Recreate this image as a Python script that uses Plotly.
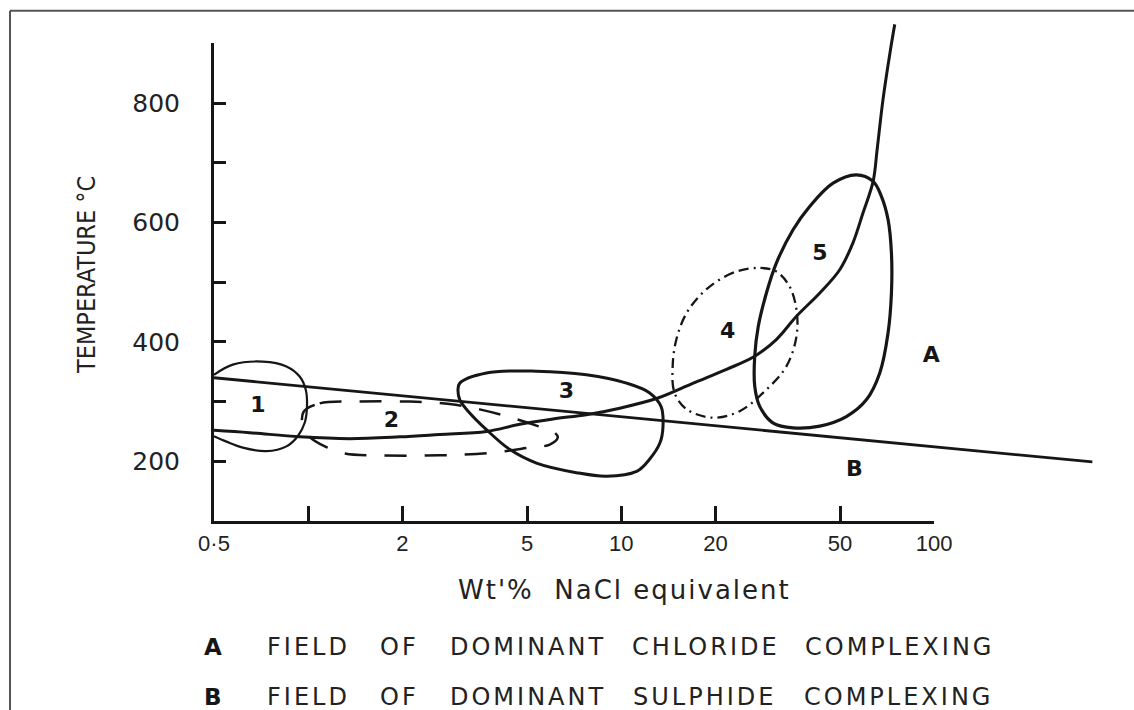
import math
import plotly.graph_objects as go

# ---------------- data (x = wt% NaCl equivalent, T = temperature in deg C) ----------------
x_tick_vals = [0.5, 1, 2, 5, 10, 20, 50, 100]
x_tick_text = ["0·5", "", "2", "5", "10", "20", "50", "100"]
y_tick_vals = [200, 300, 400, 500, 600, 700, 800, 900]
y_tick_text = ["200", "", "400", "", "600", "", "800", ""]

axis_x_span = [0.5, 100]
axis_t_span = [100, 900]

# straight boundary between field A (chloride) and field B (sulphide)
ab_line_x = [0.5, 320]
ab_line_t = [340, 199]

# rising curve
curve_x = [0.5, 0.65, 0.94, 1.36, 1.96, 2.63, 3.71, 4.74, 6.06, 7.74, 9.89, 13.1, 17.0,
           21.7, 26.7, 31.3, 36.3, 43.1, 49.9, 55.0, 59.2, 63.8, 65.7, 68.6, 72.5, 74.8]
curve_t = [252, 248, 241, 238, 241, 245, 250, 262, 271, 278, 289, 306, 331,
           354, 376, 404, 443, 482, 521, 566, 616, 669, 722, 806, 890, 932]

# field 1 (solid, open at the temperature axis)
field1_x = [0.5, 0.574, 0.715, 0.852, 0.939, 0.982, 0.991, 0.975, 0.926, 0.852, 0.735, 0.618, 0.548, 0.5]
field1_t = [345, 362, 367, 359, 342, 320, 292, 265, 242, 225, 217, 223, 233, 242]

# field 2 (dashed)
field2_x = [0.967, 1.088, 1.46, 2.11, 2.83, 3.53, 4.40, 5.49, 6.13, 6.27, 5.91, 5.10, 3.80,
            2.63, 1.69, 1.31, 1.13, 1.01, 0.96, 0.967]
field2_t = [283, 297, 300, 300, 296, 287, 274, 258, 248, 240, 228, 223, 214,
            210, 210, 213, 225, 241, 261, 283]

# field 3 (solid)
field3_x = [3.05, 3.71, 5.36, 7.74, 10.4, 12.3, 13.4, 13.6, 13.3, 12.3, 11.2, 8.97, 7.19,
            5.36, 4.40, 3.71, 3.28, 3.05, 3.01, 3.05]
field3_t = [331, 348, 351, 345, 331, 315, 292, 259, 231, 203, 183, 175, 181,
            197, 220, 253, 281, 303, 320, 331]

# field 4 (dash-dot)
field4_x = [27.7, 22.8, 18.7, 16.2, 15.0, 14.6, 14.8, 16.2, 19.7, 23.9, 29.1, 33.7, 36.3,
            36.3, 34.5, 31.3, 27.7]
field4_t = [524, 516, 488, 449, 404, 359, 315, 287, 273, 284, 320, 359, 409,
            454, 493, 518, 524]

# field 5 (solid)
field5_x = [63.8, 56.4, 47.5, 40.0, 35.4, 31.3, 29.1, 27.4, 26.7, 26.7, 27.7, 30.6, 35.4,
            43.1, 52.4, 60.7, 67.0, 71.2, 73.0, 73.0, 71.2, 67.8, 63.8]
field5_t = [669, 680, 666, 627, 588, 532, 482, 426, 376, 326, 292, 264, 256,
            259, 275, 303, 348, 415, 482, 549, 605, 644, 669]

label_text = ["1", "2", "3", "4", "5", "A", "B"]
label_x = [0.691, 1.845, 6.68, 21.9, 43.1, 97.8, 55.6]
label_t = [292, 267, 315, 415, 546, 375, 184]

x_title = "Wt'%\u00a0\u00a0NaCl\u00a0equivalent"
y_title = "TEMPERATURE °C"
key_letters = ["A", "B"]
key_rows = [["FIELD", "OF", "DOMINANT", "CHLORIDE", "COMPLEXING"],
            ["FIELD", "OF", "DOMINANT", "SULPHIDE", "COMPLEXING"]]

# ---------------- layout geometry ----------------
W, H = 1134, 710
ML, MR, MT, MB = 214, 10, 15, 189
PW, PH = W - ML - MR, H - MT - MB
PX_PER_DECADE = 313.0
PX_PER_DEG = 0.5969

lx0 = math.log10(axis_x_span[0])
x2_range = [lx0, lx0 + PW / PX_PER_DECADE]
y2_range = [axis_t_span[0], axis_t_span[0] + PH / PX_PER_DEG]
x_dom = (math.log10(axis_x_span[1]) - lx0) / (x2_range[1] - x2_range[0])
y_dom = (axis_t_span[1] - axis_t_span[0]) / (y2_range[1] - y2_range[0])


def px(xp):
    return (xp - ML) / PW


def py(yp):
    return (H - MB - yp) / PH


INK = "#161616"
TXT = "#222222"
fig = go.Figure()

# invisible point so the visible (axis-only) subplot is materialised
fig.add_trace(go.Scatter(x=[axis_x_span[0]], y=[axis_t_span[0]], mode="markers",
                         marker=dict(opacity=0), hoverinfo="skip", xaxis="x", yaxis="y"))


def add_curve(xs, ts, width=3.0, dash="solid"):
    fig.add_trace(go.Scatter(x=xs, y=ts, mode="lines", xaxis="x2", yaxis="y2",
                             line=dict(color=INK, width=width, dash=dash, shape="spline", smoothing=1.0),
                             hoverinfo="skip"))


add_curve(ab_line_x, ab_line_t, 2.8)
add_curve(curve_x, curve_t, 3.0)
add_curve(field1_x, field1_t, 2.2)
add_curve(field2_x, field2_t, 2.5, "22px,18px")
add_curve(field3_x, field3_t, 3.0)
add_curve(field4_x, field4_t, 2.3, "10px,5px,2px,5px")
add_curve(field5_x, field5_t, 3.2)

fig.add_trace(go.Scatter(x=label_x, y=label_t, mode="text", text=label_text, xaxis="x2", yaxis="y2",
                         textfont=dict(family="DejaVu Sans", size=22, color=INK, weight="bold"),
                         hoverinfo="skip"))


def note(x, y, text, font, angle=0):
    return dict(x=x, y=y, xref="paper", yref="paper", text=text, textangle=angle,
                xanchor="center", yanchor="middle", showarrow=False, font=font)


annotations = [
    note(px(87), py(275), y_title,
         dict(family="Liberation Sans Narrow, DejaVu Sans Condensed, Liberation Sans", size=25, color=TXT), -90),
    note(px(624), py(590), '<span style="letter-spacing:2px">' + x_title + '</span>',
         dict(family="DejaVu Sans", size=26, color=TXT)),
]
word_centers = [[308.4, 399.7, 527.5, 706.3, 899.2], [308.4, 399.7, 527.5, 704.0, 898.0]]
row_y = [646.7, 696.7]
for r in range(2):
    annotations.append(note(px(213), py(row_y[r]), key_letters[r],
                            dict(family="DejaVu Sans", size=23, color=INK, weight="bold")))
    for w, cx in zip(key_rows[r], word_centers[r]):
        annotations.append(note(px(cx), py(row_y[r]), '<span style="letter-spacing:3px">' + w + '</span>',
                                dict(family="DejaVu Sans", size=24, color=TXT)))

shapes = [
    dict(type="line", xref="paper", yref="paper", x0=px(10), x1=px(10), y0=py(H + 20), y1=py(10.7),
         line=dict(color="#555", width=2)),
    dict(type="line", xref="paper", yref="paper", x0=px(10), x1=px(W + 20), y0=py(10.7), y1=py(10.7),
         line=dict(color="#555", width=2)),
]

fig.update_layout(
    width=W, height=H, autosize=False,
    margin=dict(l=ML, r=MR, t=MT, b=MB, pad=0, autoexpand=False),
    paper_bgcolor="white", plot_bgcolor="rgba(0,0,0,0)", showlegend=False,
    annotations=annotations, shapes=shapes,
    xaxis=dict(type="log", domain=[0, x_dom], range=[lx0, math.log10(axis_x_span[1])], anchor="y",
               showline=True, linecolor=INK, linewidth=3, showgrid=False, zeroline=False,
               tickmode="array", tickvals=x_tick_vals, ticktext=x_tick_text,
               ticks="inside", ticklen=15, tickwidth=2.5, tickcolor=INK, ticklabelstandoff=1,
               tickfont=dict(family="Liberation Sans", size=22, color=TXT), fixedrange=True),
    yaxis=dict(domain=[0, y_dom], range=axis_t_span, anchor="x",
               showline=True, linecolor=INK, linewidth=3, showgrid=False, zeroline=False,
               tickmode="array", tickvals=y_tick_vals, ticktext=y_tick_text,
               ticks="inside", ticklen=12, tickwidth=2.5, tickcolor=INK, ticklabelstandoff=26,
               tickfont=dict(family="DejaVu Sans", size=25, color=TXT), fixedrange=True),
    xaxis2=dict(type="log", domain=[0, 1], range=x2_range, anchor="y2", visible=False, fixedrange=True),
    yaxis2=dict(domain=[0, 1], range=y2_range, anchor="x2", visible=False, fixedrange=True),
)

fig.write_html("out.html", config={"displayModeBar": False, "responsive": False},
               post_script="document.body.style.margin='0';document.body.style.overflow='hidden';")
